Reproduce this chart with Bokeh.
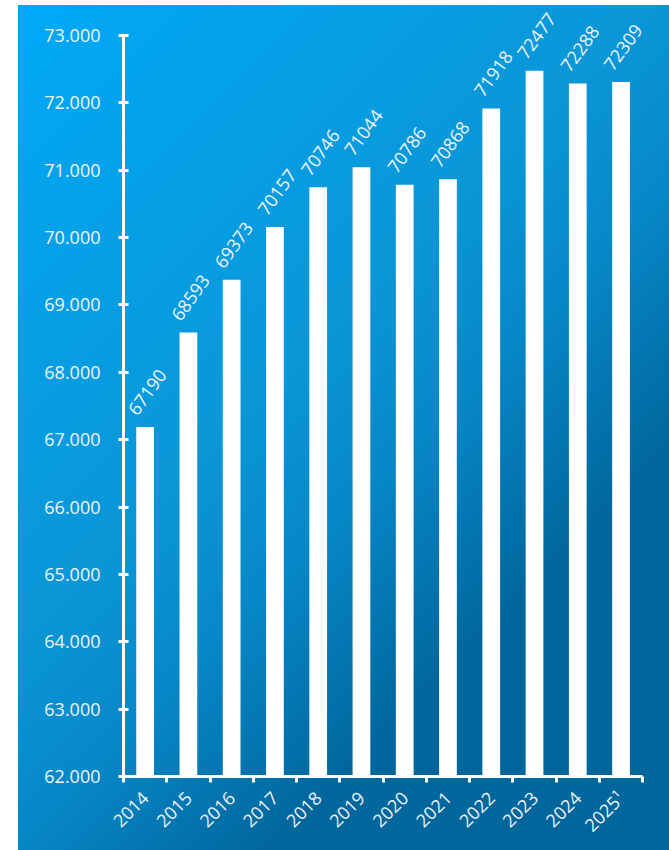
import math
from bokeh.plotting import figure
from bokeh.models import FixedTicker, ColumnDataSource
from bokeh.core.properties import value
from bokeh.embed import file_html
from bokeh.resources import INLINE

years = [2014, 2015, 2016, 2017, 2018, 2019, 2020, 2021, 2022, 2023, 2024, 2025]
values = [67190, 68593, 69373, 70157, 70746, 71044, 70786, 70868, 71918, 72477, 72288, 72309]
y_ticks = [62, 63, 64, 65, 66, 67, 68, 69, 70, 71, 72, 73]
y_tick_labels = [f"{t}.000" for t in y_ticks]
x_tick_labels = ["2014", "2015", "2016", "2017", "2018", "2019", "2020", "2021",
                 "2022", "2023", "2024", "2025\u00b9"]

FONT = "Open Sans"
TXT = "#EEF4FA"

src = ColumnDataSource(dict(
    x=years,
    top=[v / 1000 for v in values],
    label=[str(v) for v in values],
))

p = figure(width=669, height=850, output_backend="svg", toolbar_location=None,
           x_range=(years[0] - 0.5, 2026.12), y_range=(y_ticks[0], 73.52),
           min_border_left=123, min_border_right=0, min_border_top=0, min_border_bottom=74)
p.background_fill_alpha = 0
p.border_fill_alpha = 0
p.outline_line_color = None
p.grid.visible = False
p.styles = {
    "background": "linear-gradient(to right, white 18px, transparent 18px), "
                  "linear-gradient(to bottom, white 5px, transparent 5px), "
                  "linear-gradient(135deg, #00AAF8 0%, #0A96D6 44%, #0788C8 56%, "
                  "#00669C 74%, #00679D 100%)"
}

p.vbar(x="x", top="top", bottom=y_ticks[0], width=0.41, source=src,
       fill_color="white", line_color=None)

p.text(x="x", y="top", text="label", source=src, angle=math.radians(54),
       x_offset=-13, y_offset=-14, text_align="left", text_baseline="middle",
       text_font=value(FONT), text_font_size="18px", text_color=TXT)

# y axis
ya = p.yaxis[0]
ya.ticker = FixedTicker(ticks=y_ticks)
ya.bounds = (y_ticks[0], y_ticks[-1])
ya.major_label_overrides = {t: l for t, l in zip(y_ticks, y_tick_labels)}
ya.minor_tick_line_color = None
ya.major_tick_in = 5
ya.major_tick_out = 5
ya.axis_line_width = 3
ya.major_tick_line_width = 3
ya.axis_line_color = "white"
ya.major_tick_line_color = "white"
ya.major_label_standoff = 18
ya.major_label_text_font = FONT
ya.major_label_text_font_size = "18px"
ya.major_label_text_color = TXT

# x axis
xa = p.xaxis[0]
xa.ticker = FixedTicker(ticks=years, minor_ticks=[y - 0.5 for y in years] + [years[-1] + 0.5])
xa.bounds = (years[0] - 0.5, years[-1] + 0.5)
xa.major_label_overrides = {y: l for y, l in zip(years, x_tick_labels)}
xa.major_tick_in = 0
xa.major_tick_out = 0
xa.minor_tick_in = 0
xa.minor_tick_out = 6
xa.minor_tick_line_width = 3
xa.minor_tick_line_color = "white"
xa.axis_line_width = 3
xa.axis_line_color = "white"
xa.major_label_orientation = math.pi / 4
xa.major_label_standoff = 12
xa.major_label_text_font = FONT
xa.major_label_text_font_size = "18px"
xa.major_label_text_color = TXT

open("out.html", "w").write(file_html(p, INLINE))
